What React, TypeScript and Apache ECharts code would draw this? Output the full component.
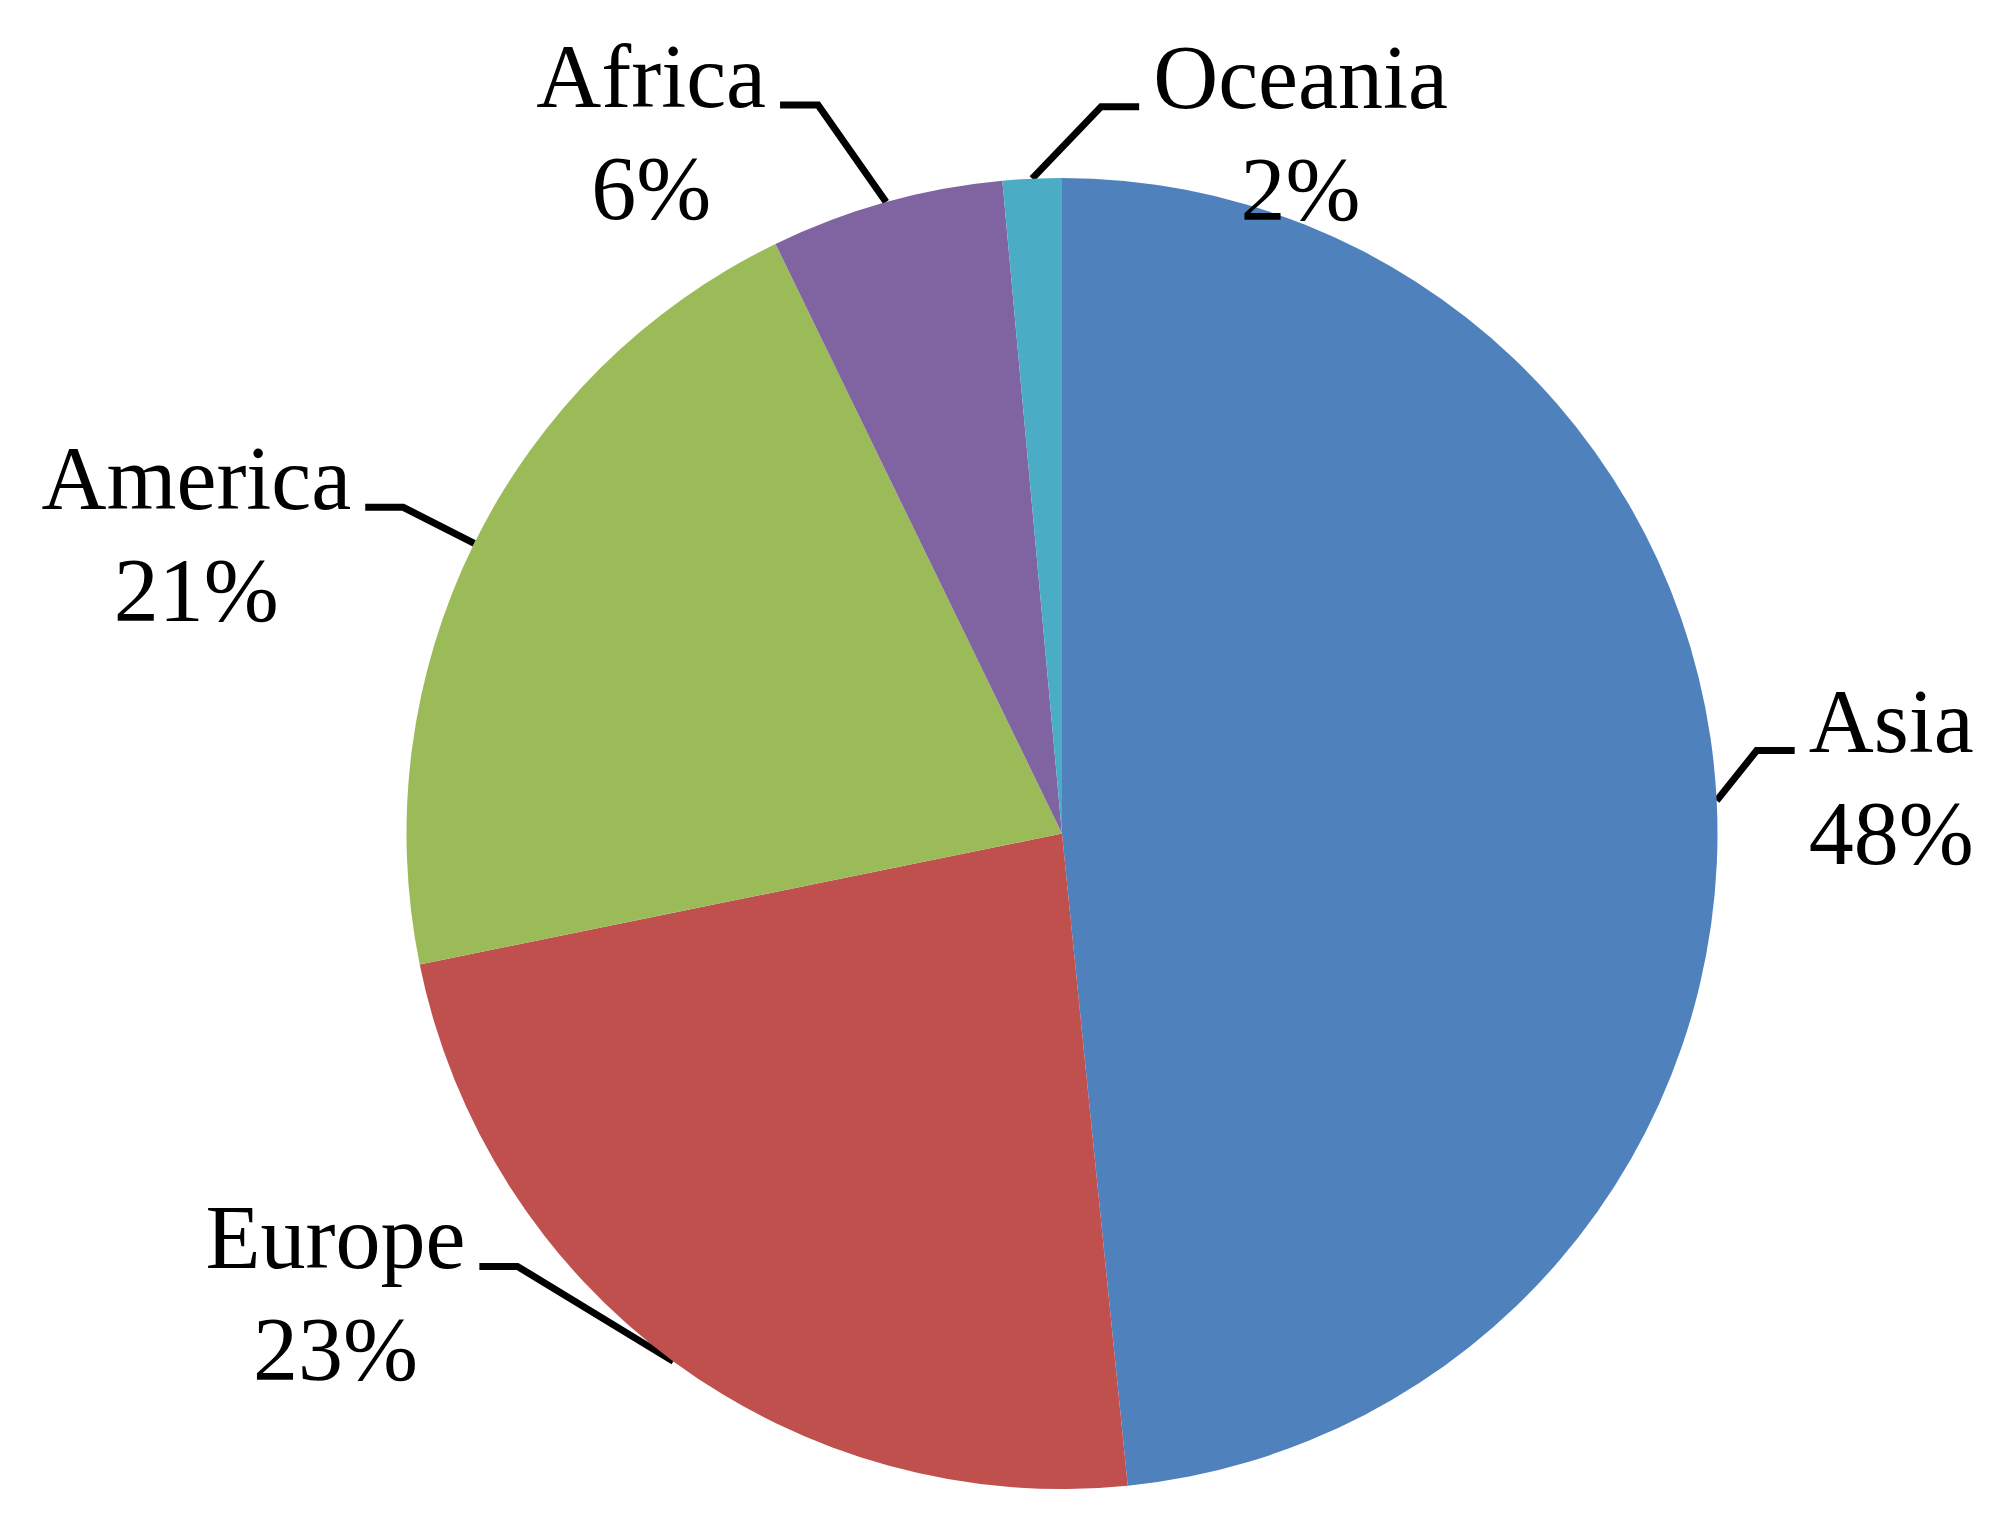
import React, { useEffect, useRef } from 'react';
import * as echarts from 'echarts';

// Data
const regions = ['Asia', 'Europe', 'America', 'Africa', 'Oceania'];
const shares = [48.4, 23.4, 21.0, 5.75, 1.45];
const sliceColors = ['#4F81BD', '#C0504D', '#9BBB59', '#8064A2', '#4BACC6'];

// Layout of the leader lines: bend offset (px) from the slice edge point
const leaderBend = [
  [40, -50],
  [-156, -95],
  [-71, -36],
  [-68, -97],
  [69, -72],
];
const leaderHorizontal = 38;
const labelGap = 14;
const baselineFromTop = 85;

export default function App() {
  const ref = useRef<HTMLDivElement>(null);
  useEffect(() => {
    const chart = echarts.init(ref.current as HTMLDivElement, null, { renderer: 'svg' });
    chart.setOption({
      animation: false,
      backgroundColor: '#ffffff',
      series: [
        {
          type: 'pie',
          center: [1062, 833.5],
          radius: 655.5,
          startAngle: 90,
          clockwise: true,
          percentPrecision: 0,
          avoidLabelOverlap: false,
          silent: true,
          data: regions.map((name, i) => ({
            name,
            value: shares[i],
            itemStyle: { color: sliceColors[i] },
          })),
          itemStyle: { borderWidth: 0 },
          label: {
            show: true,
            position: 'outside',
            formatter: '{b}\n{d}%',
            fontFamily: '"Liberation Serif", "Times New Roman", serif',
            fontSize: 90,
            lineHeight: 112,
            color: '#000000',
            align: 'center',
          },
          labelLine: {
            show: true,
            length: 40,
            length2: leaderHorizontal,
            smooth: false,
            lineStyle: { color: '#000000', width: 7, cap: 'butt', join: 'miter' },
          },
          labelLayout: (p: any) => {
            const i = p.dataIndex;
            const p0 = p.labelLinePoints && p.labelLinePoints[0];
            if (!p0) return {};
            const [bx, by] = leaderBend[i];
            const dir = bx >= 0 ? 1 : -1;
            const p1 = [p0[0] + bx, p0[1] + by];
            const p2 = [p1[0] + dir * leaderHorizontal, p1[1]];
            const w = p.labelRect.width;
            const cx = p2[0] + dir * (labelGap + w / 2);
            return {
              x: cx,
              y: p2[1] - baselineFromTop,
              align: 'center',
              verticalAlign: 'top',
              labelLinePoints: [p0, p1, p2],
            };
          },
          emphasis: { disabled: true },
        },
      ],
    });
    return () => chart.dispose();
  }, []);
  return (
    <div
      ref={ref}
      style={{ position: 'absolute', left: 0, top: 0, width: 2014, height: 1535 }}
    />
  );
}
